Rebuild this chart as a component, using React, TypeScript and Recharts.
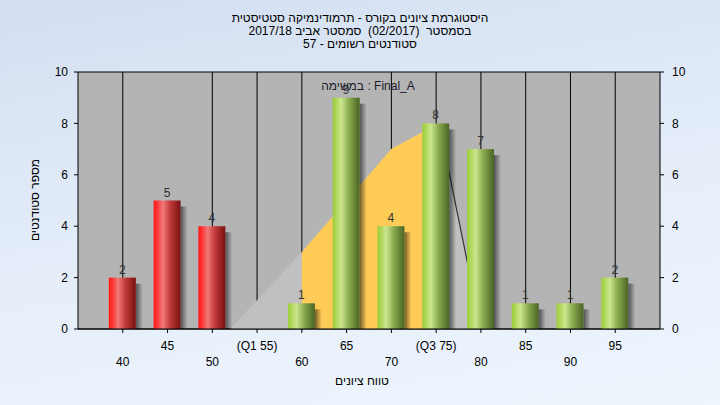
import React from 'react';
import { ComposedChart, Bar, Area, XAxis, YAxis, CartesianGrid, LabelList } from 'recharts';

// ---- data ----
const categories = [40, 45, 50, 55, 60, 65, 70, 75, 80, 85, 90, 95];
const counts = [2, 5, 4, 0, 1, 9, 4, 8, 7, 1, 1, 2];
const tickLabels = ['40', '45', '50', '(Q1 55)', '60', '65', '70', '(Q3 75)', '80', '85', '90', '95'];
const failCutoff = 55;
const curveX = [52, 60, 70, 75, 76, 80];
const curveY = [0, 3, 7, 7.95, 6.85, 0];
const iqrX = [60, 70, 75];
const iqrY = [3, 7, 7.95];
const edgeX = [76, 80];
const edgeY = [6.85, 0];
const gridX = [40, 50, 55, 60, 70, 75, 80, 85, 90, 95];
const yTicks = [0, 2, 4, 6, 8, 10];
const xDomain = [35, 100];

const titleLines = [
  'היסטוגרמת ציונים בקורס - תרמודינמיקה סטטיסטית',
  'בסמסטר  (02/2017)  סמסטר אביב 2017/18',
  'סטודנטים רשומים - 57',
];
const legendText = 'במשימה : Final_A';
const yTitle = 'מספר סטודנטים';
const xTitle = 'טווח ציונים';

function buildRows() {
  const xs = Array.from(new Set([...categories, ...curveX, ...iqrX, ...edgeX])).sort((a, b) => a - b);
  return xs.map((x) => {
    const r: any = { x };
    const ci = categories.indexOf(x);
    if (ci >= 0) r.count = counts[ci];
    const k = curveX.indexOf(x);
    if (k >= 0) r.curve = curveY[k];
    const q = iqrX.indexOf(x);
    if (q >= 0) r.iqr = iqrY[q];
    const e = edgeX.indexOf(x);
    if (e >= 0) r.edge = edgeY[e];
    return r;
  });
}
const rows = buildRows();

const FONT = '"Liberation Sans", "DejaVu Sans", Arial, sans-serif';
const BAR_W = 27;

const BarShape = (p: any) => {
  const { x, y, width, height, payload } = p;
  if (!payload || !payload.count || !(height > 0)) return null;
  const fail = payload.x < failCutoff;
  const left = x + width / 2 - BAR_W / 2;
  return (
    <g>
      <rect x={left + BAR_W} y={y + 6} width={7} height={height - 2} fill="url(#shadowGrad)" />
      <rect x={left} y={y} width={BAR_W} height={height} fill={fail ? 'url(#redGrad)' : 'url(#greenGrad)'} />
    </g>
  );
};

const renderLabel = (p: any) => {
  const { x, y, width, value } = p;
  if (!value) return null;
  return (
    <text x={x + width / 2} y={y - 4} textAnchor="middle" fontSize={12} fill="#333" fontFamily={FONT}>
      {value}
    </text>
  );
};

const XTick = (p: any) => {
  const { x, y, payload } = p;
  const idx = categories.indexOf(payload.value);
  const row2 = idx % 2 === 0;
  return (
    <text x={x} y={y + (row2 ? 31 : 15)} textAnchor="middle" fontSize={12} fill="#000" fontFamily={FONT}>
      {tickLabels[idx]}
    </text>
  );
};

const vGen = (props: any) => {
  const { xAxis, offset } = props;
  if (xAxis && typeof xAxis.scale === 'function') {
    const v = gridX.map((g) => xAxis.scale(g));
    if (v.every((n: any) => typeof n === 'number' && !isNaN(n))) return v;
  }
  return gridX.map((g) => offset.left + ((g - xDomain[0]) / (xDomain[1] - xDomain[0])) * offset.width);
};

export default function App() {
  return (
    <div
      style={{
        position: 'absolute',
        left: 0,
        top: 0,
        width: 720,
        height: 405,
        background: 'linear-gradient(170deg, #d2def1 0%, #e4edf9 50%, #eef5fd 100%)',
        fontFamily: FONT,
        overflow: 'hidden',
      }}
    >
      <svg width={0} height={0} style={{ position: 'absolute' }}>
        <defs>
          <linearGradient id="redGrad" x1="0" y1="0" x2="1" y2="0">
            <stop offset="0%" stopColor="#ff1818" />
            <stop offset="12%" stopColor="#ff3030" />
            <stop offset="35%" stopColor="#f07a7a" />
            <stop offset="60%" stopColor="#c43c3c" />
            <stop offset="100%" stopColor="#781010" />
          </linearGradient>
          <linearGradient id="greenGrad" x1="0" y1="0" x2="1" y2="0">
            <stop offset="0%" stopColor="#9ccc3c" />
            <stop offset="12%" stopColor="#acd656" />
            <stop offset="32%" stopColor="#cce68e" />
            <stop offset="60%" stopColor="#8aab4e" />
            <stop offset="100%" stopColor="#4a6424" />
          </linearGradient>
          <linearGradient id="shadowGrad" x1="0" y1="0" x2="1" y2="0">
            <stop offset="0%" stopColor="#000" stopOpacity={0.55} />
            <stop offset="100%" stopColor="#000" stopOpacity={0} />
          </linearGradient>
        </defs>
      </svg>

      <ComposedChart width={720} height={405} data={rows} margin={{ top: 72, right: 0, left: 0, bottom: 0 }}>
        <CartesianGrid
          stroke="#000"
          strokeWidth={1}
          fill="#b4b4b4"
          fillOpacity={1}
          horizontal={true}
          vertical={true}
          verticalCoordinatesGenerator={vGen}
        />
        <XAxis
          dataKey="x"
          type="number"
          domain={xDomain}
          ticks={categories}
          interval={0}
          allowDataOverflow
          height={76}
          tickSize={4}
          tickLine={{ stroke: '#000' }}
          axisLine={{ stroke: '#000' }}
          tick={<XTick />}
        />
        <YAxis
          yAxisId="left"
          orientation="left"
          width={78}
          domain={[0, 10]}
          ticks={yTicks}
          allowDataOverflow
          tickSize={4}
          tickMargin={6}
          tickLine={{ stroke: '#000' }}
          axisLine={{ stroke: '#000' }}
          tick={{ fontSize: 12, fill: '#000', fontFamily: FONT }}
        />
        <YAxis
          yAxisId="right"
          orientation="right"
          width={60}
          domain={[0, 10]}
          ticks={yTicks}
          allowDataOverflow
          tickSize={4}
          tickMargin={8}
          tickLine={{ stroke: '#000' }}
          axisLine={{ stroke: '#000' }}
          tick={{ fontSize: 12, fill: '#000', fontFamily: FONT }}
        />
        <Area
          yAxisId="left"
          type="linear"
          dataKey="curve"
          fill="#c0c0c0"
          fillOpacity={1}
          stroke="none"
          connectNulls
          isAnimationActive={false}
        />
        <Area
          yAxisId="left"
          type="linear"
          dataKey="iqr"
          fill="#ffcb57"
          fillOpacity={1}
          stroke="none"
          connectNulls
          isAnimationActive={false}
        />
        <Area
          yAxisId="left"
          type="linear"
          dataKey="edge"
          fill="none"
          fillOpacity={0}
          stroke="#333"
          strokeWidth={1.2}
          dot={false}
          activeDot={false}
          connectNulls
          isAnimationActive={false}
        />
        <Bar yAxisId="left" dataKey="count" barSize={27} shape={<BarShape />} isAnimationActive={false}>
          <LabelList dataKey="count" content={renderLabel} />
        </Bar>
      </ComposedChart>

      {titleLines.map((t, i) => (
        <div
          key={i}
          style={{
            position: 'absolute',
            left: 0,
            width: 720,
            top: 11 + i * 13,
            textAlign: 'center',
            fontSize: 12,
            lineHeight: '14px',
            color: '#000',
            whiteSpace: 'pre',
          }}
        >
          {t}
        </div>
      ))}
      <div
        style={{
          position: 'absolute',
          left: 268,
          width: 200,
          top: 79,
          textAlign: 'center',
          fontSize: 12,
          lineHeight: '14px',
          color: '#1a1a2a',
        }}
      >
        {legendText}
      </div>
      <div
        style={{
          position: 'absolute',
          left: 0,
          width: 724,
          top: 374,
          textAlign: 'center',
          fontSize: 12,
          lineHeight: '14px',
          color: '#000',
        }}
      >
        {xTitle}
      </div>
      <div
        style={{
          position: 'absolute',
          left: 35 - 60,
          top: 200 - 7,
          width: 120,
          textAlign: 'center',
          fontSize: 12,
          lineHeight: '14px',
          color: '#000',
          transform: 'rotate(-90deg)',
        }}
      >
        {yTitle}
      </div>
    </div>
  );
}
